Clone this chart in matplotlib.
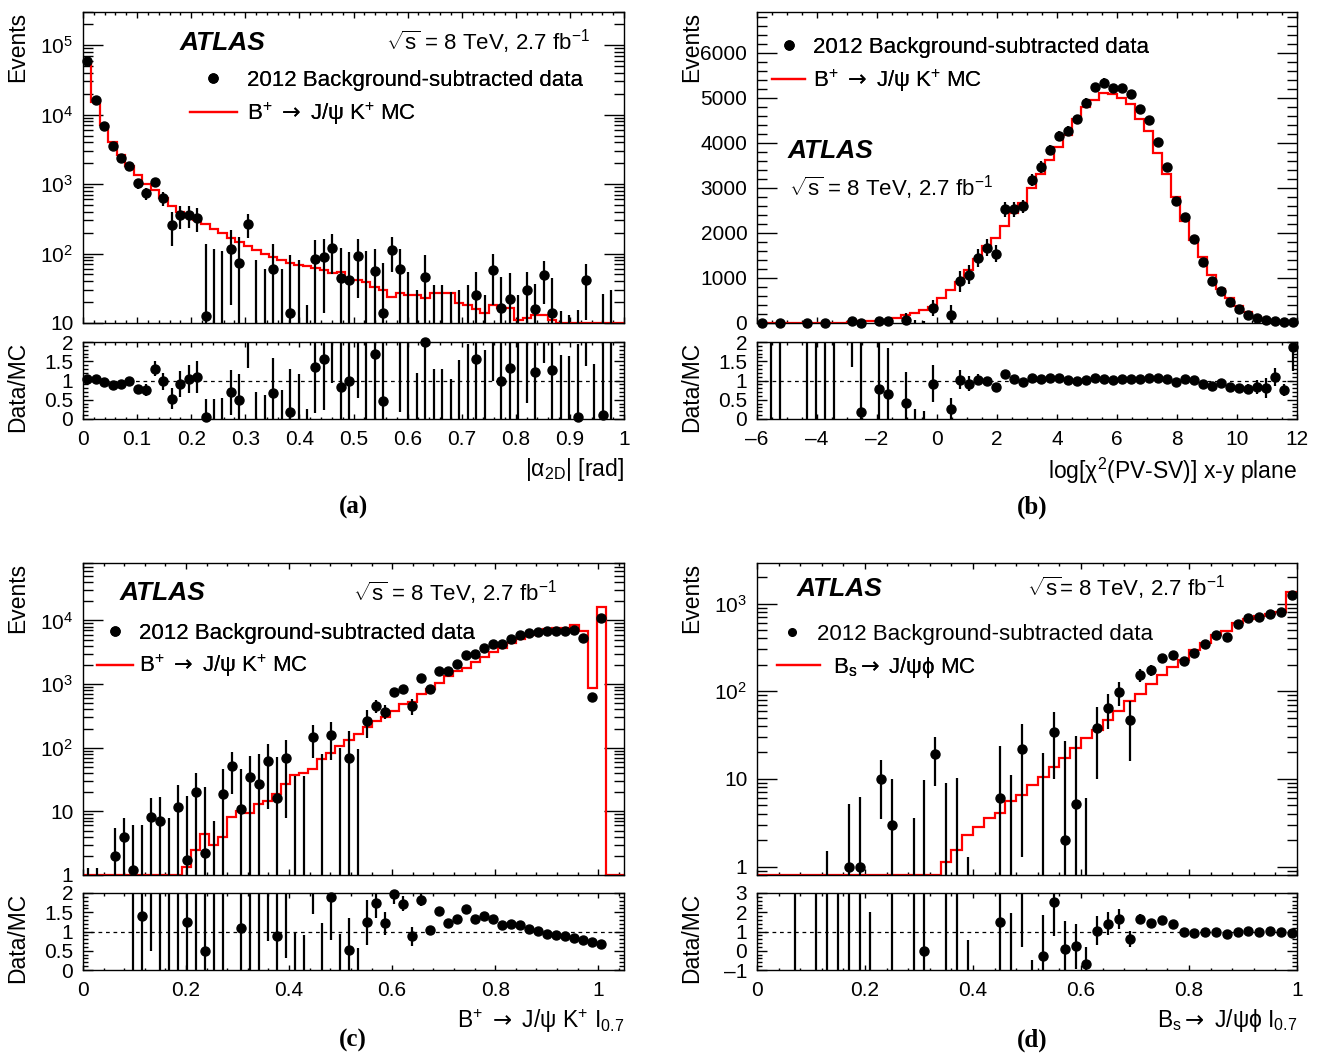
import numpy as np
import matplotlib
matplotlib.use("Agg")
import matplotlib.pyplot as plt
from matplotlib.ticker import MultipleLocator, LogLocator, FuncFormatter, NullFormatter
from matplotlib.lines import Line2D

nan = np.nan

# (a) |alpha_2D| [rad], 64 bins in [0, 1]
a_mc = [58000, 15400, 7100, 4000, 2650, 1800, 1330, 990, 810, 630,
        490, 390, 340, 300, 270, 227, 200, 170, 148, 128,
        112, 97, 88, 80, 72, 69, 66, 62, 57, 53,
        54, 42, 42, 39, 33, 30, 24, 27, 25, 25,
        23, 27, 27, 27, 19.5, 18, 16, 14, 18, 16.5,
        16.5, 11, 11.8, 13, 13, 10.9, 9, 8, 8, 8,
        7, 8, 8, 7]
a_data = [60000, 16000, 6900, 3500, 2400, 1800, 1020, 740, 1060, 620,
          260, 355, 355, 330, 12.7, -10, -10, 118, 74, 270,
          -20, -30, 59, -40, 14, -30, -40, 84, 89, 120,
          45, 41, 93, -20, 56, 14, 114, 60, -20, -10,
          46, -10, -15, -10, -20, -10, 25, -10, 58, 16.5,
          22, -10, 30, 16, 49, 14, -10, -5, 0.5, 41,
          -10, 0.8, -5, nan]
a_err = [1200, 400, 250, 150, 120, 100, 160, 150, 150, 140,
         130, 130, 125, 125, 125, 125, 120, 100, 100, 100,
         100, 90, 80, 100, 80, 110, 58, 75, 75, 70,
         75, 65, 70, 130, 60, 60, 60, 55, 75, 40,
         50, 45, 50, 38, 50, 45, 30, 35, 40, 30,
         30, 35, 25, 20, 30, 30, 25, 18, 15, 30,
         20, 25, 35, 12]

# (b) log[chi2(PV-SV)] x-y plane, 60 bins in [-6, 12]
b_mc = [0, 1, 1, 1, 2, 1, 3, 1, 5, 8,
        22, 45, 50, 51, 62, 120, 175, 220, 280, 360,
        560, 740, 905, 1170, 1420, 1700, 1880, 2150, 2450, 2670,
        2990, 3300, 3620, 3910, 4180, 4520, 4790, 4940, 5100, 5080,
        5000, 4850, 4520, 4260, 3780, 3300, 2800, 2260, 1850, 1470,
        1070, 755, 555, 385, 237, 133, 75, 34, 20, 8]
b_data = [2, -3, 3, -5, -5, 4, -4, 3, -10, -20,
          50, 8, -60, 40, 40, -80, 75, -100, -130, 330,
          -200, 185, 925, 1075, 1450, 1670, 1540, 2520, 2520, 2590,
          3170, 3460, 3840, 4150, 4260, 4520, 4890, 5240, 5330, 5210,
          5210, 5070, 4740, 4500, 4010, 3470, 2700, 2360, 1870, 1350,
          925, 700, 460, 310, 185, 110, 60, 37, 15, 15]
b_err = [3, 6, 5, 3, 3, 8, 12, 12, 20, 15,
         20, 90, 50, 70, 75, 60, 140, 160, 185, 175,
         150, 220, 230, 220, 200, 190, 180, 170, 160, 150,
         140, 130, 120, 115, 110, 100, 100, 95, 95, 95,
         95, 95, 90, 90, 85, 80, 75, 70, 65, 55,
         50, 45, 40, 35, 30, 25, 20, 8, 3, 5]

# (c) B+ -> J/psi K+ I_0.7, 60 bins in [0, 1.05]
c_mc = [0, 0, 0, 0, 0, 0.3, 0.5, 0.4, 0.6, 0.5,
        0.8, 1.35, 2.47, 4.35, 3.0, 4.0, 8.2, 10.1, 9.3, 13.1,
        14.5, 18.5, 26.6, 37, 39.5, 47, 66, 83, 106, 132,
        164, 214, 262, 306, 376, 479, 527, 688, 826, 1050,
        1320, 1600, 1800, 2240, 2640, 3150, 3630, 4350, 5100, 5900,
        6500, 7300, 7500, 7700, 8500, 6800, 870, 16300, 0, 0]
c_data = [-1, -1, nan, 2.0, 4.0, 1.2, 0.7, 8.2, 7.1, -2,
          11.8, 1.7, 20, 2.2, -5, 19, 52, 10.9, 35, 27,
          62, 16.4, 70, -30, -30, 149, -20, 158, -20, 68,
          -20, 265, 456, 370, 740, 825, 460, 1250, 850, 1600,
          1600, 2100, 2850, 2950, 3700, 4200, 4200, 5200, 6000, 6300,
          6600, 6900, 6800, 6800, 7000, 5300, 630, 11000, nan, nan]
c_err = [2.3, 2.3, nan, 3.4, 3.8, 5, 5.5, 8, 10, 10,
         14, 16, 20, 22, 12, 28, 33, 36, 40, 52,
         51, 56, 62, 66, 66, 81, 100, 94, 118, 112,
         115, 125, 105, 92, 100, 96, 130, 100, 83, 85,
         110, 100, 100, 100, 100, 100, 100, 100, 100, 100,
         100, 100, 100, 100, 100, 100, 40, 130, nan, nan]

# (d) Bs -> J/psi phi I_0.7, 50 bins in [0, 1]
d_mc = [0, 0, 0, 0.1, 0, 0.1, 0.2, 0.2, 0.2, 0.3,
        0.3, 0.3, 0.4, 0.4, 0.5, 0.5, 0.6, 1.12, 1.55, 2.26,
        2.86, 3.57, 4.06, 5.6, 6.46, 8.5, 10.6, 13.5, 17.2, 22.5,
        29.2, 36.4, 46.5, 58.9, 77, 93, 121, 152, 187, 228,
        298, 356, 443, 490, 600, 672, 728, 760, 800, 1370]
d_data = [nan, nan, nan, -1, nan, -1, -1, -1, 1.0, 1.0,
          -2, 10, 3.0, -5, -2, 0.0, 19.2, -3, -2, -3,
          -10, -8, 6.0, -6.5, 22, -10, -3, 34, 2.0, 5.1,
          -20, 38, 65, 98, 47, 152, 173, 240, 262, 222,
          272, 345, 440, 418, 585, 675, 700, 765, 800, 1250]
d_err = [nan, nan, nan, 1.5, nan, 1.5, 2.5, 1.6, 4.1, 5.2,
         2.6, 6.5, 7, 2, 5.6, 9.8, 11, 12, 12.3, 4.3,
         5, 4.5, 18, 17.5, 20.7, 6, 22.5, 24, 25, 26,
         26, 28, 28, 30, 31, 25, 25, 24, 24, 24,
         22, 22, 22, 22, 22, 22, 22, 22, 22, 40]

arrow = r"$\mathsf{\rightarrow}$"
lbl_data = "2012 Background-subtracted data"
lbl_bu = r"B$^{+}$ " + arrow + r" J/$\mathrm{\psi}$ K$^{+}$ MC"
lbl_bs = r"B$_{\mathrm{s}}$" + arrow + r" J/$\mathrm{\psi\phi}$ MC"
energy = r"$\sqrt{\mathrm{s}}$ = 8 TeV, 2.7 fb$^{-1}$"
energy_d = r"$\sqrt{\mathrm{s}}$= 8 TeV, 2.7 fb$^{-1}$"

plt.rcParams['font.family'] = ['Liberation Sans', 'DejaVu Sans']
plt.rcParams['mathtext.fontset'] = 'custom'
plt.rcParams['mathtext.rm'] = 'Liberation Sans'
plt.rcParams['mathtext.it'] = 'Liberation Sans:italic'
plt.rcParams['mathtext.bf'] = 'Liberation Sans:bold'
plt.rcParams['mathtext.sf'] = 'DejaVu Sans'
plt.rcParams['axes.linewidth'] = 1.0

W, H = 1318, 1056
fig = plt.figure(figsize=(W / 100, H / 100), dpi=100)


def box(l, r, t, b):
    return [l / W, 1 - b / H, (r - l) / W, (b - t) / H]


def lin_fmt(v, pos):
    return ('%g' % v).replace('-', '\u2013')


def log_fmt(v, pos):
    e = int(round(np.log10(v)))
    if e == 0:
        return '1'
    if e == 1:
        return '10'
    return r'$10^{%d}$' % e


def style(ax, xmaj, xmin, ymaj, ymin):
    # ROOT-like ticks: inward on all four sides, x ticks short, y ticks long
    ax.tick_params(which='both', direction='in', top=True, right=True, labelsize=15, width=1)
    ax.tick_params(axis='x', which='major', length=xmaj, pad=8)
    ax.tick_params(axis='x', which='minor', length=xmin)
    ax.tick_params(axis='y', which='major', length=ymaj, pad=7)
    ax.tick_params(axis='y', which='minor', length=ymin)


def panel(l, r, t, b, rt, rb, edges, data, err, mc, logy, ylim, rlim, xmajor, xminor, rmajor, xlabel):
    ax = fig.add_axes(box(l, r, t, b))
    rx = fig.add_axes(box(l, r, rt, rb))
    edges = np.asarray(edges)
    data = np.asarray(data, float)
    err = np.asarray(err, float)
    mc = np.asarray(mc, float)
    x = 0.5 * (edges[1:] + edges[:-1])
    ymin, ymax = ylim

    # MC histogram
    ax.stairs(np.maximum(mc, ymin), edges, baseline=None, color='red', lw=1.6, zorder=2)

    # data with error bars
    ok = ~np.isnan(data)
    lo = data - err
    hi = data + err
    if logy:
        lo = np.where(lo > 0, lo, ymin * 1e-2)
    vis = ok & (hi > ymin)
    ax.vlines(x[vis], lo[vis], hi[vis], color='k', lw=1.6, zorder=3)
    m = ok & (data >= ymin) & (data <= ymax)
    ax.plot(x[m], data[m], 'o', color='k', ms=6.5, clip_on=False, zorder=4)

    # ratio data / MC
    has = ok & (mc > 0)
    rr = np.full_like(data, nan)
    re = np.full_like(data, nan)
    rr[has] = data[has] / mc[has]
    re[has] = err[has] / mc[has]
    rx.axhline(1, color='k', lw=0.9, ls=(0, (3, 3)), zorder=1)
    rx.vlines(x[has], (rr - re)[has], (rr + re)[has], color='k', lw=1.6, zorder=3)
    mr = has & (rr >= rlim[0]) & (rr <= rlim[1])
    rx.plot(x[mr], rr[mr], 'o', color='k', ms=6.5, clip_on=False, zorder=4)

    ax.set_xlim(edges[0], edges[-1])
    rx.set_xlim(edges[0], edges[-1])
    if logy:
        ax.set_yscale('log')
        ax.yaxis.set_major_locator(LogLocator(base=10, numticks=20))
        ax.yaxis.set_minor_locator(LogLocator(base=10, subs=np.arange(2, 10), numticks=20))
        ax.yaxis.set_major_formatter(FuncFormatter(log_fmt))
        ax.yaxis.set_minor_formatter(NullFormatter())
    else:
        ax.yaxis.set_major_locator(MultipleLocator(1000))
        ax.yaxis.set_minor_locator(MultipleLocator(200))
    ax.set_ylim(ymin, ymax)
    rx.set_ylim(*rlim)
    rx.yaxis.set_major_locator(MultipleLocator(rmajor))
    rx.yaxis.set_minor_locator(MultipleLocator(rmajor / 5))
    rx.yaxis.set_major_formatter(FuncFormatter(lin_fmt))
    rx.xaxis.set_major_formatter(FuncFormatter(lin_fmt))
    for a in (ax, rx):
        a.xaxis.set_major_locator(MultipleLocator(xmajor))
        a.xaxis.set_minor_locator(MultipleLocator(xminor))
    style(ax, 4.3, 2.2, 14.4, 7.2)
    style(rx, 3.6, 1.8, 7.5, 3.8)
    ax.tick_params(labelbottom=False)

    lx = -54 / (r - l)
    ax.set_ylabel('Events', loc='top', fontsize=16.5)
    ax.yaxis.set_label_coords(lx, 1.0)
    rx.set_ylabel('Data/MC', loc='top', fontsize=16.5)
    rx.yaxis.set_label_coords(lx, 1.0)
    rx.set_xlabel(xlabel, loc='right', fontsize=16.5, labelpad=5)
    return ax, rx


def legend(ax, handles, labels, x, y, hl, tp):
    lg = ax.legend(handles, labels, loc='upper left', bbox_to_anchor=(x, y),
                   frameon=False, fontsize=16, handlelength=hl, handletextpad=tp,
                   labelspacing=0.42, borderpad=0, borderaxespad=0)
    ax.add_artist(lg)


h_data = Line2D([], [], marker='o', ls='none', color='k', ms=6.5)
h_data_small = Line2D([], [], marker='o', ls='none', color='k', ms=5.5)
h_mc = Line2D([], [], color='red', lw=1.6)


def atlas(ax, x, y):
    ax.text(x, y, 'ATLAS', transform=ax.transAxes, fontsize=19, fontweight='bold',
            fontstyle='italic', va='baseline', ha='left')


# (a)
ax, rx = panel(83, 624, 12, 323, 342, 419, np.linspace(0, 1, 65), a_data, a_err, a_mc,
               True, (10, 3e5), (0, 2), 0.1, 0.02, 0.5, r"|$\mathrm{\alpha}_{\mathrm{2D}}$| [rad]")
atlas(ax, 0.179, 0.879)
ax.text(0.937, 0.879, energy, transform=ax.transAxes, fontsize=16, ha='right', va='baseline')
legend(ax, [h_data, h_mc], [lbl_data, lbl_bu], 0.198, 0.813, 2.1, 0.45)

# (b)
ax, rx = panel(757, 1297, 12, 323, 342, 419, np.linspace(-6, 12, 61), b_data, b_err, b_mc,
               False, (0, 6900), (0, 2), 2, 0.5, 0.5, r"log[$\mathrm{\chi}^{2}$(PV-SV)] x-y plane")
atlas(ax, 0.056, 0.532)
ax.text(0.059, 0.408, energy, transform=ax.transAxes, fontsize=16, ha='left', va='baseline')
legend(ax, [h_data, h_mc], [lbl_data, lbl_bu], 0.028, 0.919, 1.5, 0.32)

# (c)
ax, rx = panel(83, 624, 563, 875, 893, 970, np.linspace(0, 1.05, 61), c_data, c_err, c_mc,
               True, (1, 8e4), (0, 2), 0.2, 0.04, 0.5,
               r"B$^{+}$ " + arrow + r" J/$\mathrm{\psi}$ K$^{+}$ I$_{0.7}$")
atlas(ax, 0.068, 0.880)
ax.text(0.876, 0.880, energy, transform=ax.transAxes, fontsize=16, ha='right', va='baseline')
legend(ax, [h_data, h_mc], [lbl_data, lbl_bu], 0.026, 0.809, 1.6, 0.27)

# (d)
ax, rx = panel(757, 1297, 563, 875, 893, 970, np.linspace(0, 1, 51), d_data, d_err, d_mc,
               True, (0.8, 2900), (-1, 3), 0.2, 0.04, 1,
               r"B$_{\mathrm{s}}$" + arrow + r" J/$\mathrm{\psi\phi}$ I$_{0.7}$")
atlas(ax, 0.074, 0.893)
ax.text(0.867, 0.893, energy_d, transform=ax.transAxes, fontsize=16, ha='right', va='baseline')
legend(ax, [h_data_small], [lbl_data], 0.0426, 0.806, 1.08, 0.58)
legend(ax, [h_mc], [lbl_bs], 0.037, 0.706, 1.95, 0.55)

for tag, fx, fy in [('(a)', 353, 507), ('(b)', 1032, 507), ('(c)', 353, 1040), ('(d)', 1032, 1040)]:
    fig.text(fx / W, 1 - fy / H, tag, fontfamily='Liberation Serif', fontweight='bold',
             fontsize=18, ha='center', va='center')

fig.savefig('out.png', dpi=100)
